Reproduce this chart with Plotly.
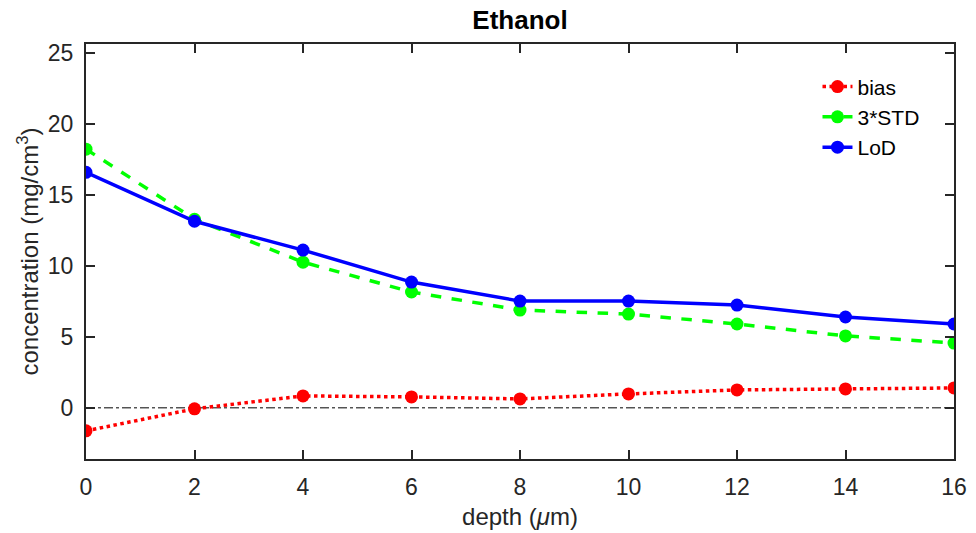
import plotly.graph_objects as go

depth = [0, 2, 4, 6, 8, 10, 12, 14, 16]
bias = [-1.62, -0.07, 0.84, 0.77, 0.63, 0.98, 1.26, 1.33, 1.40]
std3 = [18.2, 13.27, 10.25, 8.15, 6.88, 6.6, 5.9, 5.06, 4.56]
lod = [16.57, 13.13, 11.1, 8.85, 7.51, 7.51, 7.23, 6.39, 5.9]
x_ticks = [0, 2, 4, 6, 8, 10, 12, 14, 16]
y_ticks = [0, 5, 10, 15, 20, 25]

FONT = "Liberation Sans"

fig = go.Figure()
fig.add_trace(go.Scatter(x=[depth[0], depth[-1]], y=[0, 0], mode="lines",
                         line=dict(color="black", width=1, dash="dashdot"),
                         showlegend=False, hoverinfo="skip"))
fig.add_trace(go.Scatter(x=depth, y=bias, name="bias", mode="lines+markers",
                         line=dict(color="#ff0000", width=3.5, dash="dot"),
                         marker=dict(color="#ff0000", size=13)))
fig.add_trace(go.Scatter(x=depth, y=std3, name="3*STD", mode="lines+markers",
                         line=dict(color="#00ff00", width=3.5, dash="dash"),
                         marker=dict(color="#00ff00", size=13)))
fig.add_trace(go.Scatter(x=depth, y=lod, name="LoD", mode="lines+markers",
                         line=dict(color="#0000ff", width=3.5),
                         marker=dict(color="#0000ff", size=13)))

axis_common = dict(showgrid=False, zeroline=False, showline=True, linecolor="#262626",
                   linewidth=2, mirror="ticks", ticks="inside", ticklen=9, tickwidth=1.5,
                   tickcolor="#262626", automargin=False, ticklabelstandoff=6,
                   tickfont=dict(family=FONT, size=23, color="#262626"))

fig.update_layout(
    width=976, height=533,
    margin=dict(l=86, r=22, t=44, b=74),
    paper_bgcolor="white", plot_bgcolor="white",
    title=dict(text="<b>Ethanol</b>", xref="paper", x=0.5, xanchor="center",
               yref="container", y=0.962, yanchor="middle",
               font=dict(family=FONT, size=26, color="black")),
    xaxis=dict(range=[0, 16], tickvals=x_ticks,
               title=dict(text="depth (<i>μ</i>m)", font=dict(family=FONT, size=24, color="#262626"), standoff=10),
               **axis_common),
    yaxis=dict(range=[-3.6, 25.6], tickvals=y_ticks,
               title=dict(text="concentration (mg/cm<sup>3</sup>)", font=dict(family=FONT, size=24, color="#262626"), standoff=2),
               **axis_common),
    legend=dict(x=0.966, y=0.946, xanchor="right", yanchor="top",
                font=dict(family=FONT, size=21, color="black"),
                bgcolor="rgba(255,255,255,0)", tracegroupgap=0),
    showlegend=True,
)

fig.write_html("out.html", config={"displayModeBar": False},
               post_script="document.body.style.margin='0';document.body.style.padding='0';")
